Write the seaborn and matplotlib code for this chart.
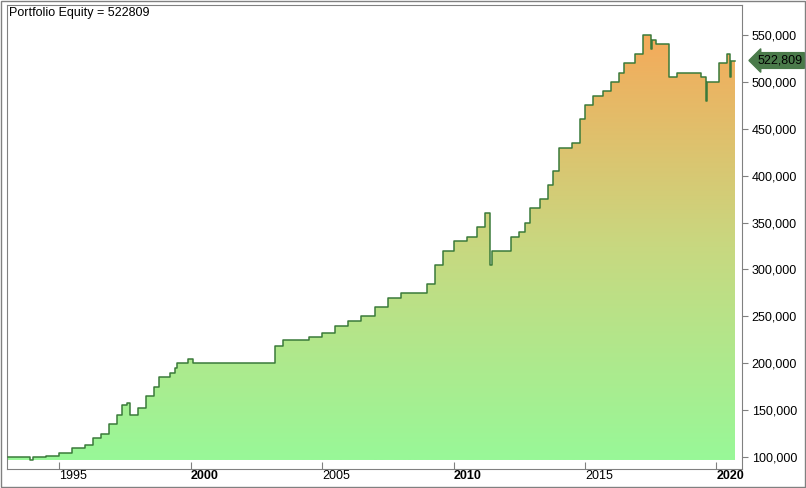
import numpy as np
import pandas as pd
import matplotlib
matplotlib.use("Agg")
import matplotlib.pyplot as plt
import seaborn as sns
from matplotlib.patches import Rectangle

years = [1993.05,1993.9,1994.0,1994.5,1995.0,1995.5,1996.0,1996.3,1996.6,1996.9,1997.2,1997.4,1997.6,1997.7,1998.0,1998.3,1998.6,1998.8,1999.2,1999.4,1999.5,1999.9,2000.1,2002.8,2003.2,2003.5,2004.5,2005.0,2005.5,2006.0,2006.5,2007.0,2007.5,2008.0,2008.9,2009.0,2009.3,2009.6,2010.0,2010.5,2010.9,2011.2,2011.4,2011.45,2011.8,2012.2,2012.5,2012.7,2012.9,2013.3,2013.6,2013.8,2014.0,2014.5,2014.8,2015.0,2015.3,2015.7,2016.0,2016.3,2016.5,2016.9,2017.2,2017.5,2017.55,2017.7,2018.0,2018.2,2018.5,2019.0,2019.4,2019.6,2019.65,2019.7,2020.1,2020.4,2020.5,2020.55,2020.7]
equity = [100000,97000,100000,101000,104000,110000,113000,120000,125000,135000,145000,155000,158000,145000,152000,165000,175000,185000,190000,195000,200000,205000,200000,200000,218000,225000,228000,232000,240000,245000,250000,260000,270000,275000,275000,285000,305000,320000,330000,335000,345000,360000,305000,320000,320000,335000,340000,350000,365000,375000,390000,405000,430000,435000,460000,475000,485000,490000,500000,510000,520000,530000,550000,535000,545000,540000,540000,505000,510000,510000,505000,480000,500000,500000,520000,530000,505000,522809,522809]
df = pd.DataFrame({"year": years, "equity": equity})

fig = plt.figure(figsize=(8.06, 4.88), dpi=100)
ax = fig.add_axes([7/806, 19/488, 735/806, 464/488])
x0, x1 = 1993.02, 2020.97
y0, y1 = 87200, 582000
base = 97000

# gradient fill clipped by the step area
xs = np.repeat(df.year.values, 2)[1:]
ys = np.repeat(df.equity.values, 2)[:-1]
poly_x = np.concatenate([xs, [xs[-1], xs[0]]])
poly_y = np.concatenate([ys, [base, base]])
grad = np.linspace(0, 1, 256).reshape(-1, 1)
cmap = matplotlib.colors.LinearSegmentedColormap.from_list("g", ["#98F898", "#C8D880", "#F5AA5A"])
im = ax.imshow(grad, extent=[x0, x1, 97000, 552000], origin="lower", aspect="auto", cmap=cmap, zorder=1)
clip = plt.Polygon(np.column_stack([poly_x, poly_y]), closed=True, transform=ax.transData, facecolor="none", edgecolor="none")
ax.add_patch(clip)
im.set_clip_path(clip)

sns.lineplot(data=df, x="year", y="equity", drawstyle="steps-post", color="#3A7A3A", lw=1.1, ax=ax, zorder=3)

ax.set_xlim(x0, x1)
ax.set_ylim(y0, y1)
ax.set_xlabel(""); ax.set_ylabel("")
ax.yaxis.tick_right()
yt = [100000,150000,200000,250000,300000,350000,400000,450000,500000,550000]
ax.set_yticks(yt)
ax.set_yticklabels([f"{v:,}" for v in yt], fontsize=9, family="Liberation Sans")
ax.tick_params(axis="y", length=4, pad=3, color="#808080")
xt = [1995,2000,2005,2010,2015,2020]
ax.set_xticks(xt)
ax.set_xticklabels([str(v) for v in xt], fontsize=9, family="Liberation Sans", ha="left")
for lbl, v in zip(ax.get_xticklabels(), xt):
    if v % 10 == 0:
        lbl.set_fontweight("bold")
ax.tick_params(axis="x", length=5, pad=1, color="#808080", direction="in")
for s in ["top", "left", "bottom", "right"]:
    ax.spines[s].set_color("#808080")

ax.text(0.003, 0.995, "Portfolio Equity = 522809", transform=ax.transAxes, fontsize=9,
        family="Liberation Sans", va="top", ha="left")
ax.annotate("522,809", xy=(1.002, (522809 - y0) / (y1 - y0)), xycoords="axes fraction",
            xytext=(10, 0), textcoords="offset points", fontsize=9, family="Liberation Sans",
            color="black", va="center", ha="left",
            bbox=dict(boxstyle="larrow,pad=0.15", fc="#4A7A4A", ec="#4A7A4A"))
fig.patches.append(Rectangle((1/806, 1/488), 804/806, 486/488, transform=fig.transFigure,
                             fill=False, ec="#808080", lw=1))
fig.savefig("out.png", dpi=100)
